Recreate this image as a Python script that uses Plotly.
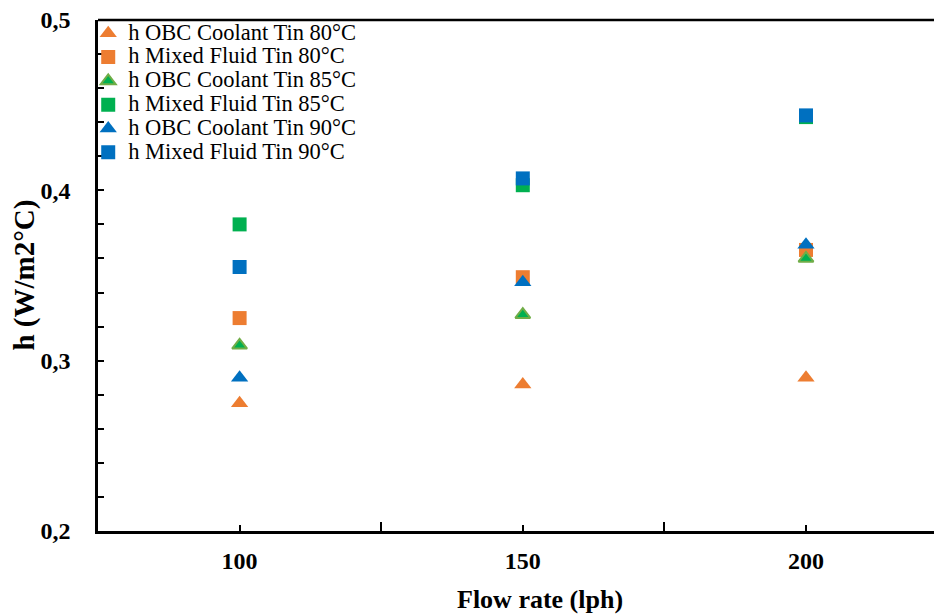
import plotly.graph_objects as go

flow_rates = [100, 150, 200]
series_names = [
    "h OBC Coolant Tin 80°C",
    "h Mixed Fluid Tin 80°C",
    "h OBC Coolant Tin 85°C",
    "h Mixed Fluid Tin 85°C",
    "h OBC Coolant Tin 90°C",
    "h Mixed Fluid Tin 90°C",
]
obc_80 = [0.275, 0.286, 0.290]
mixed_80 = [0.325, 0.349, 0.365]
obc_85 = [0.309, 0.327, 0.360]
mixed_85 = [0.380, 0.403, 0.443]
obc_90 = [0.290, 0.346, 0.368]
mixed_90 = [0.355, 0.407, 0.444]
y_tick_vals = [0.2, 0.3, 0.4, 0.5]
y_tick_text = ["0,2", "0,3", "0,4", "0,5"]
x_tick_vals = [100, 150, 200]

ORANGE = "#ED7D31"
GREEN = "#00B050"
GREEN_EDGE = "#70AD47"
BLUE = "#0070C0"

styles = [
    dict(symbol="triangle-up", color=ORANGE, line=dict(width=0), size=15),
    dict(symbol="square", color=ORANGE, line=dict(width=0), size=14),
    dict(symbol="triangle-up", color=GREEN, line=dict(width=2, color=GREEN_EDGE), size=13),
    dict(symbol="square", color=GREEN, line=dict(width=0), size=14),
    dict(symbol="triangle-up", color=BLUE, line=dict(width=0), size=15),
    dict(symbol="square", color=BLUE, line=dict(width=0), size=14),
]
values = [obc_80, mixed_80, obc_85, mixed_85, obc_90, mixed_90]

fig = go.Figure()
for name, vals, st in zip(series_names, values, styles):
    fig.add_trace(go.Scatter(
        x=flow_rates, y=vals, mode="markers",
        name='<span style="font-size:22.5px">' + name + '</span>',
        marker=st))

serif = "Liberation Serif"
fig.update_layout(
    width=934, height=615,
    margin=dict(l=98, r=0, t=20, b=84),
    plot_bgcolor="white", paper_bgcolor="white",
    separators=", ",
    font=dict(family=serif, color="black"),
    legend=dict(
        x=-0.0117, y=1.007, xanchor="left", yanchor="top",
        font=dict(family=serif, size=16, color="black"),
        bgcolor="rgba(0,0,0,0)", itemwidth=30, tracegroupgap=0,
    ),
    xaxis=dict(
        range=[75, 222.6], showgrid=False, zeroline=False, automargin=False,
        showline=True, linecolor="black", linewidth=2.5, mirror=False,
        tickvals=x_tick_vals, ticks="inside", ticklen=6, tickwidth=1.5, tickcolor="black",
        tickfont=dict(family=serif, size=24, color="black", weight="bold"),
        ticklabelstandoff=6,
        minor=dict(tick0=125, dtick=50, ticks="inside", ticklen=9, tickwidth=1.5, tickcolor="black"),
    ),
    yaxis=dict(
        range=[0.2, 0.5], showgrid=False, zeroline=False, automargin=False,
        showline=True, linecolor="black", linewidth=2.5,
        tickvals=y_tick_vals, ticktext=y_tick_text, ticks="inside", ticklen=6, tickwidth=1.5,
        tickcolor="black",
        tickfont=dict(family=serif, size=24, color="black", weight="bold"),
        ticklabelstandoff=20,
        minor=dict(dtick=0.02, tick0=0.2, ticks="inside", ticklen=6, tickwidth=1.5, tickcolor="black"),
    ),
    annotations=[
        dict(text="<b>Flow rate (lph)</b>", x=0.529, y=-0.135, xref="paper", yref="paper",
             xanchor="center", yanchor="middle", showarrow=False,
             font=dict(family=serif, size=26, color="black")),
        dict(text="<b>h (W/m2°C)</b>", x=-0.0885, y=0.5, xref="paper", yref="paper",
             xanchor="center", yanchor="middle", showarrow=False, textangle=-90,
             font=dict(family=serif, size=29, color="black")),
    ],
    shapes=[
        dict(type="line", xref="paper", yref="paper", x0=0, x1=1, y0=1, y1=1,
             line=dict(color="black", width=2.5)),
    ],
)

fig.write_html(
    "out.html",
    config={"displayModeBar": False},
    post_script="document.body.style.margin='0';document.body.style.overflow='hidden';",
)
